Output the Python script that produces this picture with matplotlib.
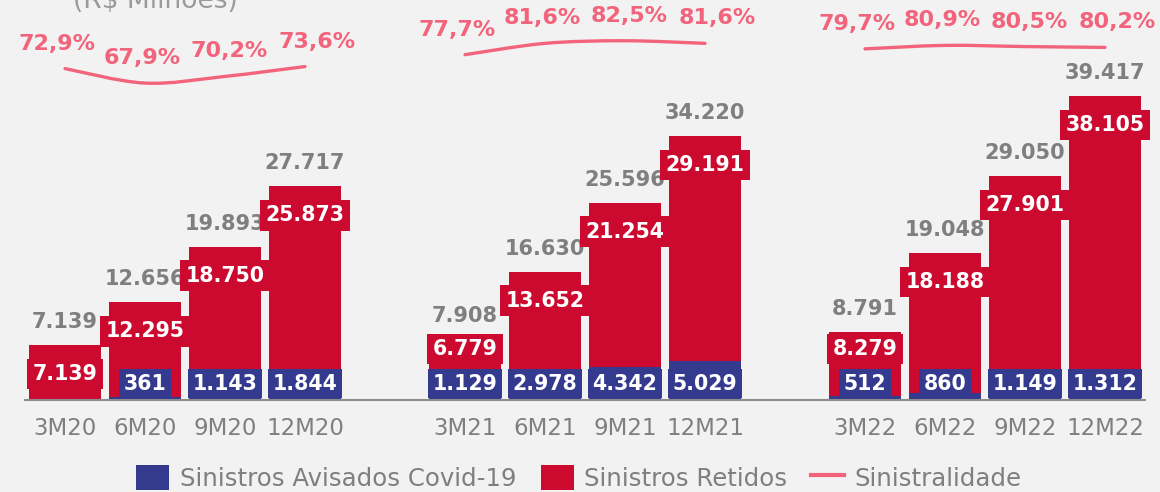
import matplotlib
matplotlib.use("Agg")
import matplotlib.pyplot as plt
from matplotlib.path import Path
from matplotlib.patches import PathPatch, Patch
from matplotlib.lines import Line2D
import numpy as np

# ---------------- data ----------------
periods = ['3M20', '6M20', '9M20', '12M20',
           '3M21', '6M21', '9M21', '12M21',
           '3M22', '6M22', '9M22', '12M22']
covid = [0, 361, 1143, 1844, 1129, 2978, 4342, 5029, 512, 860, 1149, 1312]
retidos = [7139, 12295, 18750, 25873, 6779, 13652, 21254, 29191,
           8279, 18188, 27901, 38105]
totals = [7139, 12656, 19893, 27717, 7908, 16630, 25596, 34220,
          8791, 19048, 29050, 39417]
sinistralidade = [72.9, 67.9, 70.2, 73.6, 77.7, 81.6, 82.5, 81.6,
                  79.7, 80.9, 80.5, 80.2]
legend_labels = ['Sinistros Avisados Covid-19', 'Sinistros Retidos', 'Sinistralidade']
title = '(R$ Milhões)'

# ---------------- style ----------------
BG = '#F2F2F2'
RED = '#CC0A2F'
BLUE = '#343A8E'
PINK = '#F2647C'
GRAY = '#7F7F7F'
W, H = 1160, 492
plt.rcParams['font.family'] = ['DejaVu Sans']

def br_int(v):
    return f"{v:,}".replace(',', '.')

def br_pct(v):
    return f"{v:.1f}%".replace('.', ',')

fig = plt.figure(figsize=(W / 100, H / 100), dpi=100, facecolor=BG)
base_px = 400          # baseline in image pixels from top
ax = fig.add_axes([25 / W, (H - base_px) / H, 1120 / W, base_px / H])
ax.set_facecolor('none')

n_per_group = 4
x = np.array([(i // n_per_group) * (n_per_group + 1) + i % n_per_group
              for i in range(len(periods))], dtype=float)

ax.set_xlim(-0.5, x[-1] + 0.5)
ymax = 51860
ax.set_ylim(0, ymax)
upp = ymax / base_px   # data units per pixel

ax.bar(x, covid, width=0.91, color=BLUE, zorder=2)
ax.bar(x, retidos, bottom=covid, width=0.91, color=RED, zorder=2)

for xi, c, r, t in zip(x, covid, retidos, totals):
    # total label (gray)
    ax.text(xi, t + 23 * upp, br_int(t), ha='center', va='center',
            fontsize=15, fontweight='bold', color=GRAY, zorder=3)
    # retidos label (red box)
    ry = t - 29 * upp
    if c > 0:
        ry = max(ry, 51 * upp)
    ax.text(xi, ry, br_int(r), ha='center', va='center', fontsize=14.8,
            fontweight='bold', color='white', zorder=4,
            bbox=dict(boxstyle='square,pad=0.26', fc=RED, ec='none'))
    # covid label (blue box)
    if c > 0:
        ax.text(xi, 16.5 * upp, br_int(c), ha='center', va='center',
                fontsize=14.8, fontweight='bold', color='white', zorder=5,
                bbox=dict(boxstyle='square,pad=0.24', fc=BLUE, ec='none'))

ax.set_xticks(x, periods)
ax.tick_params(axis='x', length=0, pad=12, labelsize=16.5, labelcolor=GRAY)
ax.set_yticks([])
for s in ['top', 'right', 'left']:
    ax.spines[s].set_visible(False)
ax.spines['bottom'].set_color('#8C8C8C')
ax.spines['bottom'].set_linewidth(1.5)

# ---------------- sinistralidade line ----------------
ax2 = ax.twinx()
ax2.set_facecolor('none')
ax2.set_ylim(75 - (base_px - 62.5) / 2.9, 75 + 62.5 / 2.9)
ax2.axis('off')

label_dx = [-8, -3, 4, 12]
s = np.array(sinistralidade)
for g in range(len(periods) // n_per_group):
    idx = slice(g * n_per_group, (g + 1) * n_per_group)
    px_ = x[idx]
    py_ = s[idx]
    pts = np.column_stack([px_, py_])
    verts = [tuple(pts[0])]
    codes = [Path.MOVETO]
    m = len(pts)
    for i in range(m - 1):
        p0 = pts[max(i - 1, 0)]
        p1 = pts[i]
        p2 = pts[i + 1]
        p3 = pts[min(i + 2, m - 1)]
        c1 = p1 + (p2 - p0) / 6
        c2 = p2 - (p3 - p1) / 6
        verts += [tuple(c1), tuple(c2), tuple(p2)]
        codes += [Path.CURVE4] * 3
    ax2.add_patch(PathPatch(Path(verts, codes), fill=False, ec=PINK, lw=2.4,
                            capstyle='round', zorder=3))
    for k, (xx, yy) in enumerate(zip(px_, py_)):
        ax2.annotate(br_pct(yy), (xx, yy), xytext=(label_dx[k], 25),
                     textcoords='offset pixels', ha='center', va='center',
                     fontsize=16, fontweight='bold', color=PINK)

# ---------------- title ----------------
fig.text(155 / W, 1 - 8 / H, title, ha='center', va='baseline',
         fontsize=19, color='#9A9A9A')

# ---------------- legend ----------------
handles = [Patch(fc=BLUE, ec='none'), Patch(fc=RED, ec='none'),
           Line2D([0], [0], color=PINK, lw=3)]
fig.legend(handles, legend_labels, loc='center', ncol=3,
           bbox_to_anchor=(579 / W, 14 / H), frameon=False, fontsize=17.6,
           labelcolor=GRAY, handlelength=1.35, handleheight=1.2,
           handletextpad=0.42, columnspacing=1.0)

fig.savefig('out.png', dpi=100, facecolor=BG)
